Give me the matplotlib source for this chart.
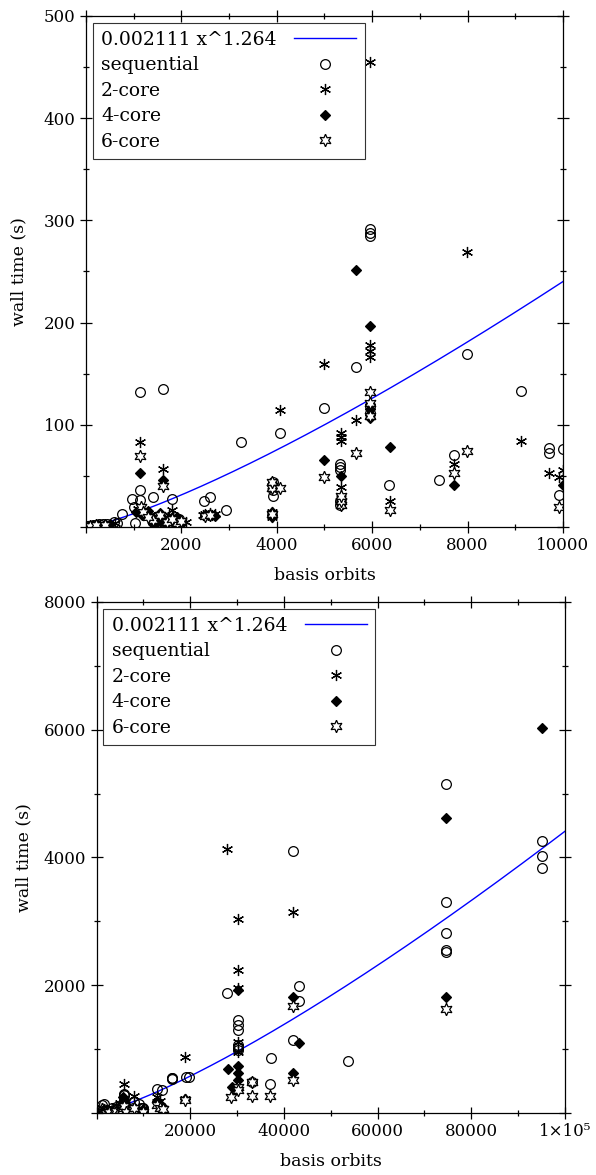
"""
Wall time vs. basis orbits, with a power-law fit.

Two panels: a close-up of the small runs on top and the full range below.
"""

import numpy as np
import matplotlib
matplotlib.use('Agg')
import matplotlib.pyplot as plt
from matplotlib.ticker import MultipleLocator, FuncFormatter

plt.rcParams['font.family'] = 'DejaVu Serif'

# Fit parameters (wall = a * orbits^b)
FIT_A = 0.002111
FIT_B = 1.264
FIT_LABEL = '0.002111 x^1.264'

# Data
seq_x = [30, 60, 100, 150, 200, 274, 350, 450, 590, 650,
         750, 960, 1010, 1030, 1130, 1140, 1140, 1410, 1620, 1810, 1960,
         1500, 1700, 1850,
         2480, 2610, 2940, 3250, 3920, 3920, 3920, 3920, 4060, 4990,
         5330, 5330, 5330, 5330, 5330, 5660, 5960, 5960, 5960, 5960, 5960,
         6360, 7400, 7710, 7980, 9110, 9710, 9710, 9910, 9990,
         12870, 13950, 16080, 16080, 16080, 19070, 19800, 27900,
         30270, 30270, 30270, 30270, 30270, 30270, 33200, 37330, 37100,
         41880, 41880, 43300, 43300, 53700, 74700, 74700, 74700, 74700,
         74700, 95080, 95080, 95080]
seq_y = [1, 1, 1, 1.5, 2, 3, 2.5, 3, 5, 4,
         13, 27, 20, 4, 26, 36, 132, 29, 135, 27, 8,
         5, 3, 6,
         25, 29, 17, 83, 44, 40, 36, 30, 92, 116,
         62, 59, 56, 25, 22, 157, 292, 288, 285, 112, 118,
         41, 46, 70, 169, 133, 77, 72, 31, 76,
         370, 360, 542, 530, 555, 560, 570, 1880,
         1450, 1375, 1300, 1060, 1020, 985, 490, 860, 450,
         4100, 1135, 1985, 1760, 812, 5150, 3300, 2815, 2545,
         2515, 4250, 4015, 3840]

core2_x = [50, 150, 300, 600, 1100,
           1137, 1621, 1810, 1500, 1700, 1900, 2100, 1350, 1550, 1750, 1950,
           2450, 2500, 2600, 2650, 2700,
           3900, 3900, 3900, 3900, 4063, 4990, 5340, 5340, 5340, 5340, 5340,
           5340, 5663, 5957, 5960, 5960, 5960, 5960, 6380, 7720, 7978, 9115,
           9705, 9915, 10000,
           12900, 13500, 18930, 18930, 27900, 30270, 30270, 30270, 30270,
           30270, 33200, 41880]
core2_y = [1, 1, 2, 4, 18,
           83, 57, 17, 10, 8, 6, 5, 12, 3, 12, 2,
           12, 13, 14, 12, 13,
           15, 12, 10, 40, 114, 159, 92, 88, 84, 39, 28,
           22, 105, 455, 178, 172, 166, 113, 25, 62, 269, 84,
           53, 49, 56,
           250, 180, 880, 214, 4140, 3030, 2240, 1950, 1114,
           958, 490, 3140]

core4_x = [100, 250, 500, 1050,
           1137, 1621, 1180, 1300, 1500, 1600, 1700, 1800, 2000, 1400, 1550,
           1750, 1900, 2500, 2550, 2600, 2700,
           3900, 3900, 3900, 3900, 4990, 5340, 5340, 5340, 5663, 5960, 5960,
           5960, 5960, 5960, 6380, 7720, 10000,
           12900, 13500, 14000, 18930, 28060, 28900, 30270, 30270, 30270,
           30270, 41880, 41880, 43300, 74700, 74700, 95080]
core4_y = [1, 2, 3, 15,
           53, 46, 12, 16, 6, 10, 4, 9, 3, 3, 14,
           6, 10, 12, 12, 12, 11,
           12, 15, 10, 42, 66, 50, 27, 24, 251, 197, 115,
           110, 107, 120, 78, 41, 41,
           190, 130, 110, 214, 690, 410, 1920, 740, 630,
           515, 1820, 625, 1099, 4615, 1817, 6030]

core6_x = [80, 200, 400, 1150,
           1137, 1621, 1200, 1400, 1700, 1900, 1300, 1550, 1800, 2000,
           2500, 2600, 3900, 3900, 3900, 4063, 4990,
           5340, 5340, 5340, 5663, 5960, 5960, 5960, 6380, 7720, 7993, 9915,
           12900, 13500, 14200, 18930, 28700, 30270, 30270, 33200, 33200,
           37100, 41880, 41880, 74700]
core6_y = [1, 1.5, 2, 20,
           69, 40, 15, 7, 5, 4, 10, 12, 8, 6,
           11, 12, 38, 13, 44, 38, 49,
           22, 25, 30, 72, 132, 121, 109, 17, 53, 74, 20,
           130, 80, 60, 200, 250, 400, 360, 490, 270,
           270, 1677, 510, 1625]

SERIES = [
    ('sequential', seq_x, seq_y, dict(marker='o', mfc='none', ms=7)),
    ('2-core', core2_x, core2_y, dict(marker=(6, 2, 0), mfc='black', ms=8)),
    ('4-core', core4_x, core4_y, dict(marker='D', mfc='black', ms=5)),
    ('6-core', core6_x, core6_y, dict(marker=(6, 1, 0), mfc='white', ms=9)),
]

LEGEND_SIZE = 13.5
HANDLE_PAD = 0.95


def hide_zero(fmt):
    """Tick formatter that leaves the origin unlabelled."""
    return FuncFormatter(lambda v, pos: '' if v == 0 else fmt(v))


def left_align_legend(fig, leg):
    """Text first, left-aligned, with the handles lined up on the right."""
    renderer = fig.canvas.get_renderer()
    widths = [t.get_window_extent(renderer).width for t in leg.get_texts()]
    maxw = max(widths)
    px2pt = 72.0 / fig.dpi
    for col in leg._legend_handle_box.get_children():
        col.align = 'left'
        for item, w in zip(col.get_children(), widths):
            item.sep = HANDLE_PAD * LEGEND_SIZE + (maxw - w) * px2pt


def draw_panel(ax, xmax, ymax, xmajor, ymajor, xfmt, ylabelpad):
    xs = np.linspace(1, xmax, 400)
    ax.plot(xs, FIT_A * xs ** FIT_B, color='blue', lw=1, label=FIT_LABEL)
    for label, x, y, style in SERIES:
        ax.plot(x, y, linestyle='none', mec='black', mew=0.9,
                label=label, **style)

    ax.set_xlim(0, xmax)
    ax.set_ylim(0, ymax)
    ax.xaxis.set_major_locator(MultipleLocator(xmajor))
    ax.xaxis.set_minor_locator(MultipleLocator(xmajor / 2))
    ax.yaxis.set_major_locator(MultipleLocator(ymajor))
    ax.yaxis.set_minor_locator(MultipleLocator(ymajor / 2))
    ax.xaxis.set_major_formatter(hide_zero(xfmt))
    ax.yaxis.set_major_formatter(hide_zero(lambda v: f'{v:.0f}'))
    ax.tick_params(which='both', direction='inout', top=True, right=True,
                   labelsize=12, width=0.9)
    ax.tick_params(which='major', length=8)
    ax.tick_params(which='minor', length=5)
    for s in ax.spines.values():
        s.set_linewidth(0.9)

    ax.set_xlabel('basis orbits', fontsize=12.5, labelpad=9)
    ax.set_ylabel('wall time (s)', fontsize=12.5, labelpad=ylabelpad)

    leg = ax.legend(loc='upper left', markerfirst=False, fancybox=False,
                    framealpha=1, edgecolor='#333333', fontsize=LEGEND_SIZE,
                    handlelength=3.3, handletextpad=HANDLE_PAD,
                    labelspacing=0.4, borderpad=0.45, borderaxespad=0.35)
    leg.get_frame().set_linewidth(0.8)
    return leg


def big_fmt(v):
    if v >= 100000:
        return '1×10⁵'
    return f'{v:.0f}'


fig = plt.figure(figsize=(5.96, 11.75), dpi=100)
ax_top = fig.add_axes([0.1443, 0.5515, 0.8003, 0.4349])
ax_bot = fig.add_axes([0.162, 0.0528, 0.786, 0.4349])

legs = [
    draw_panel(ax_top, 10000, 500, 2000, 100, lambda v: f'{v:.0f}', 12),
    draw_panel(ax_bot, 100000, 8000, 20000, 2000, big_fmt, 8),
]
fig.canvas.draw()
for leg in legs:
    left_align_legend(fig, leg)

fig.savefig('out.png', dpi=100)
